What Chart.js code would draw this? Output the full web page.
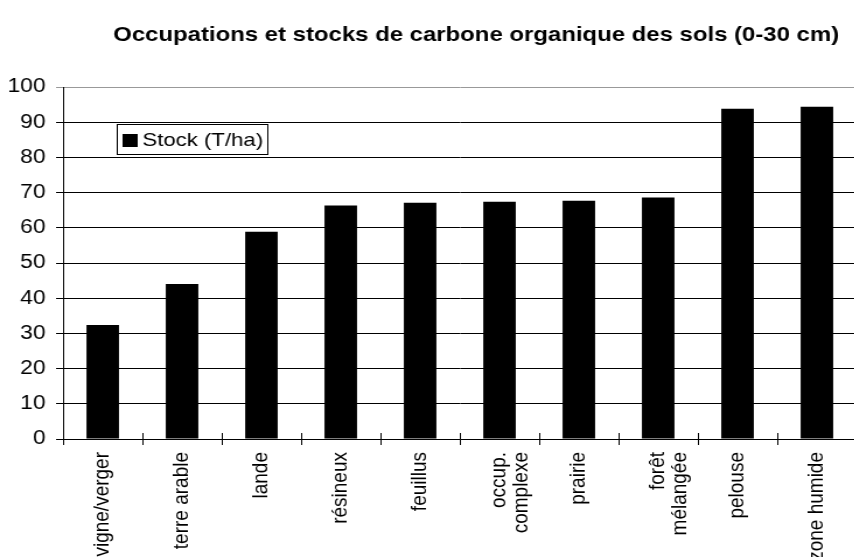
<!DOCTYPE html>
<html><head><meta charset="utf-8">
<script src="https://cdn.jsdelivr.net/npm/chart.js@4.4.1/dist/chart.umd.min.js"></script>
<style>
html,body{margin:0;padding:0;overflow:hidden;background:#fff;width:854px;height:557px}
#wrap{position:absolute;left:0;top:0;width:734px;height:557px;transform:scaleX(1.167);transform-origin:0 0}
canvas{display:block}
</style></head>
<body><div id="wrap"><canvas id="c" width="734" height="557"></canvas></div>
<script>
const chartTitle = 'Occupations et stocks de carbone organique des sols (0-30 cm)';
const seriesLabel = 'Stock (T/ha)';
const categories = ['vigne/verger','terre arable','lande','résineux','feuillus',['occup.','complexe'],'prairie',['forêt','mélangée'],'pelouse','zone humide'];
const stock = [32.4, 44.0, 58.9, 66.3, 67.1, 67.4, 67.7, 68.6, 93.8, 94.4];
const yMin = 0, yMax = 100, yStep = 10;

const FONT = '"Liberation Sans", Arial, sans-serif';

const titlePlugin = {
  id: 'titleText',
  afterDraw(chart) {
    const ctx = chart.ctx;
    ctx.save();
    ctx.font = 'bold 20.5px ' + FONT;
    ctx.fillStyle = '#000';
    ctx.textAlign = 'center';
    ctx.textBaseline = 'middle';
    ctx.fillText(chartTitle, 408, 35);
    ctx.restore();
  }
};

const legendPlugin = {
  id: 'boxLegend',
  afterDraw(chart) {
    const {ctx, chartArea: a} = chart;
    const ds = chart.data.datasets[0];
    const x = Math.round(a.left + 46), y = Math.round(a.top + 37), w = 129, h = 30;
    ctx.save();
    ctx.fillStyle = '#fff';
    ctx.fillRect(x, y, w, h);
    ctx.strokeStyle = '#000';
    ctx.lineWidth = 1;
    ctx.strokeRect(x + 0.5, y + 0.5, w, h);
    ctx.fillStyle = ds.backgroundColor;
    ctx.fillRect(x + 5, y + 10, 13, 13);
    ctx.font = '19px ' + FONT;
    ctx.textBaseline = 'middle';
    ctx.fillStyle = '#000';
    ctx.fillText(ds.label, x + 22, y + 17);
    ctx.restore();
  }
};

const crossTicks = {
  id: 'crossTicks',
  afterDraw(chart) {
    const xs = chart.scales.x;
    const ctx = chart.ctx;
    const n = chart.data.labels.length;
    const cw = (xs.right - xs.left) / n;
    ctx.save();
    ctx.strokeStyle = '#000';
    ctx.lineWidth = 1;
    ctx.beginPath();
    for (let i = 0; i <= n; i++) {
      const px = Math.round(xs.left + i * cw) + 0.5;
      ctx.moveTo(px, xs.top - 6);
      ctx.lineTo(px, xs.top);
    }
    ctx.stroke();
    ctx.restore();
  }
};

new Chart(document.getElementById('c'), {
  type: 'bar',
  data: {
    labels: categories,
    datasets: [{
      label: seriesLabel,
      data: stock,
      backgroundColor: '#000',
      borderWidth: 0,
      barPercentage: 0.41,
      categoryPercentage: 1.0
    }]
  },
  options: {
    responsive: false,
    animation: false,
    devicePixelRatio: 1,
    layout: { padding: { top: 87, left: 0, right: 0, bottom: 0 } },
    plugins: {
      legend: { display: false },
      title: { display: false },
      tooltip: { enabled: false }
    },
    scales: {
      x: {
        offset: true,
        grid: { offset: true, drawOnChartArea: false, drawTicks: true, tickLength: 6, color: '#000', lineWidth: 1 },
        border: { color: '#000', width: 1 },
        ticks: {
          autoSkip: false, maxRotation: 90, minRotation: 90, padding: 7, color: '#000',
          font: { family: FONT, size: 19, lineHeight: 1.0 }
        },
        afterFit(s) { s.height = 118; }
      },
      y: {
        min: yMin, max: yMax,
        ticks: { stepSize: yStep, padding: 9, color: '#000', font: { family: FONT, size: 19.5 } },
        grid: {
          color: (c) => (c.tick && c.tick.value === yMax) ? '#999' : '#000',
          lineWidth: 1, tickLength: 6, drawTicks: true
        },
        border: { color: '#000', width: 1 },
        afterFit(s) { s.width = 54; }
      }
    }
  },
  plugins: [titlePlugin, legendPlugin, crossTicks]
});
</script>
</body></html>
